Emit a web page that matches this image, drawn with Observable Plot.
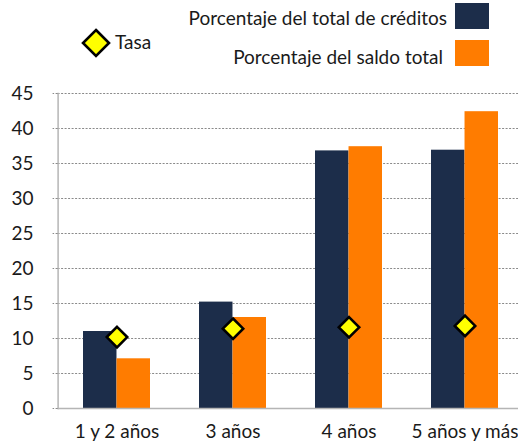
<!DOCTYPE html>
<html><head><meta charset="utf-8">
<script src="https://cdn.jsdelivr.net/npm/d3@7"></script>
<script src="https://cdn.jsdelivr.net/npm/@observablehq/plot@0.6"></script>
<style>
body{margin:0;background:#fff;font-family:Lato,"Open Sans",sans-serif;color:#1a1a1a;}
#wrap{position:relative;width:518px;height:444px;overflow:hidden;}
#legend svg,#chart svg{display:block;}
</style></head><body>
<div id="wrap"><div id="legend"></div><div id="chart"></div></div>
<script>
const categories = ["1 y 2 años", "3 años", "4 años", "5 años y más"];
const creditos = [11.0, 15.2, 36.8, 36.9];
const saldo = [7.1, 13.0, 37.4, 42.4];
const tasa = [10.2, 11.4, 11.6, 11.8];
const seriesNames = ["Porcentaje del total de créditos", "Porcentaje del saldo total"];
const tasaName = "Tasa";
const colors = ["#1c2d4a", "#ff7c00"];
const yTicks = [0, 5, 10, 15, 20, 25, 30, 35, 40, 45];

const FONT = "Lato, 'Open Sans', sans-serif";
const FS = 19;

const bars = [];
categories.forEach((c, i) => {
  bars.push({cat: c, serie: seriesNames[0], v: creditos[i], k: 0});
  bars.push({cat: c, serie: seriesNames[1], v: saldo[i], k: 1});
});
const dots = categories.map((c, i) => ({cat: c, v: tasa[i]}));

const W = 518, H = 372, ML = 57.6, MR = -4.4;
const pInner = 0.423;
const step = (W - ML - MR) / categories.length;
const half = step * (1 - pInner) / 2;

// Legend (above the chart SVG)
const ns = "http://www.w3.org/2000/svg";
const lsvg = d3.select("#legend").append("svg").attr("width", W).attr("height", 72)
  .style("font-family", FONT).style("font-size", FS + "px");
lsvg.append("text").attr("x", 447).attr("y", 25).attr("text-anchor", "end").attr("fill", "#1a1a1a").text(seriesNames[0]);
lsvg.append("rect").attr("x", 455).attr("y", 3).attr("width", 34).attr("height", 26).attr("fill", colors[0]);
lsvg.append("text").attr("x", 443).attr("y", 64).attr("text-anchor", "end").attr("fill", "#1a1a1a").text(seriesNames[1]);
lsvg.append("rect").attr("x", 455).attr("y", 40).attr("width", 34).attr("height", 26).attr("fill", colors[1]);
lsvg.append("path").attr("d", "M96,30 L109,43 L96,56 L83,43 Z").attr("fill", "#ffff00").attr("stroke", "#000").attr("stroke-width", 2.6);
lsvg.append("text").attr("x", 115).attr("y", 49).attr("fill", "#1a1a1a").text(tasaName);

const chart = Plot.plot({
  width: W, height: H,
  marginLeft: ML, marginRight: MR, marginTop: 21, marginBottom: 36,
  style: {fontFamily: FONT, fontSize: FS + "px", color: "#1a1a1a", background: "#fff"},
  x: {domain: categories, paddingInner: pInner, paddingOuter: pInner / 2, label: null},
  y: {domain: [0, 45], label: null},
  marks: [
    Plot.gridY(yTicks, {stroke: "#8a8a8a", strokeOpacity: 1, strokeDasharray: "2,1.5", strokeWidth: 1}),
    Plot.barY(bars.filter(d => d.k === 0), {x: "cat", y: "v", fill: colors[0], insetRight: half}),
    Plot.barY(bars.filter(d => d.k === 1), {x: "cat", y: "v", fill: colors[1], insetLeft: half}),
    Plot.ruleY([0], {stroke: "#b5b5b5", strokeWidth: 1.5}),
    Plot.frame({anchor: "left", stroke: "#b5b5b5", strokeWidth: 1.5}),
    Plot.axisY(yTicks, {tickSize: 5, tickPadding: 19.5, stroke: "#8a8a8a", strokeDasharray: "2,1.5", fontSize: FS, label: null}),
    Plot.axisX({tickSize: 0, tickPadding: 15.5, fontSize: FS, label: null}),
    Plot.dot(dots, {x: "cat", y: "v", symbol: "diamond2", r: 9.2, fill: "#ffff00", stroke: "#000", strokeWidth: 2.6})
  ]
});
document.getElementById("chart").appendChild(chart);
</script>
</body></html>
